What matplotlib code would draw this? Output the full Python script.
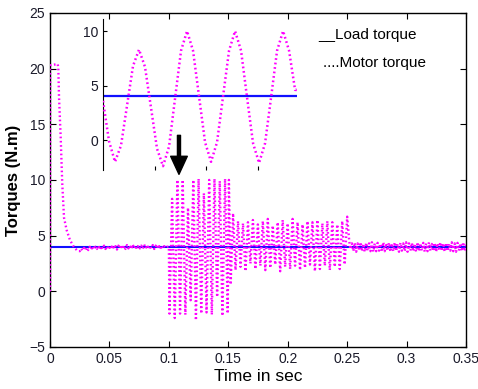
import numpy as np
import matplotlib
matplotlib.use("Agg")
import matplotlib.pyplot as plt

plt.rcParams["font.family"] = ["Liberation Sans", "DejaVu Sans"]

MAGENTA = "#ff00ff"
BLUE = "#1010ff"
DOTS = (0, (0.7, 1.1))

# load torque reference (N.m)
load_t = [0.0, 0.35]
load_v = [4.0, 4.0]

# motor torque: start-up transient
start_t = [0.0, 0.0, 0.0005, 0.0065, 0.0070, 0.0076, 0.0090, 0.0103, 0.0118, 0.0140, 0.0168, 0.0200, 0.0225]
start_v = [0.0, 19.9, 20.3, 20.4, 20.0, 17.4, 13.8, 9.7, 6.6, 5.5, 4.6, 4.0, 3.7]

# steady running before the fault (0.025 - 0.0985 s)
steady_v = [3.6, 3.85, 3.65, 3.9, 3.7, 3.95, 3.7, 4.0, 3.75, 4.05,
            3.75, 4.0, 3.8, 4.1, 3.75, 4.05, 3.8, 4.1, 3.8, 4.05,
            3.75, 4.1, 3.8, 4.15, 3.8, 4.05, 3.75, 4.1, 3.85, 4.15,
            3.8, 4.1, 3.8, 4.15, 3.85, 4.1, 3.8, 4.2, 3.85, 4.1,
            3.8, 4.15, 3.85, 4.1, 3.8, 4.2, 3.85, 4.15, 3.8, 4.1,
            3.85, 4.15, 3.8, 4.1, 3.85, 4.2, 3.8, 4.1, 3.85, 4.05,
            3.9, 4.0]

# heavy oscillation 0.1005 - 0.1495 s
osc1_v = [-2.0, 8.3, -2.4, 10.0, -2.0, 10.0, -2.1, 7.5, -0.8, 10.0, -2.6, 10.1,
          -2.0, 8.8, -1.9, 10.0, -2.1, 10.1, -0.5, 9.9, -2.2, 10.1, -2.0]
osc1_end_t = [0.1505, 0.1520]
osc1_end_v = [10.0, 0.6]

# lighter oscillation 0.154 - 0.25 s
osc2_v = [7.0, 1.9, 6.3, 2.2, 6.1, 1.8, 6.2, 2.5, 6.4, 2.0,
          6.0, 2.3, 6.3, 1.9, 6.5, 2.1, 5.9, 2.4, 6.2, 1.8,
          6.4, 2.2, 6.1, 2.0, 6.5, 2.3, 6.2, 1.9, 6.0, 2.1,
          6.3, 2.4, 6.2, 1.8, 6.4, 2.0, 6.1, 2.3, 6.3, 1.9,
          6.2, 2.2, 6.0, 2.0, 6.3, 2.4, 6.7]

# settling after 0.25 s
tail_t = [0.2515, 0.2525]
tail_v = [4.8, 3.8]
noise_v = [4.3, 3.6, 4.35, 3.55, 4.3, 3.65, 4.4, 3.6, 4.25, 3.55,
           4.35, 3.65, 4.3, 3.6, 4.4, 3.55, 4.3, 3.6, 4.35, 3.65,
           4.25, 3.55, 4.4, 3.6, 4.3, 3.65, 4.35, 3.55, 4.3, 3.6,
           4.4, 3.6, 4.25, 3.55, 4.35, 3.65, 4.3, 3.6, 4.4, 3.55,
           4.3, 3.65, 4.35, 3.6, 4.25, 3.55, 4.4, 3.6, 4.3, 3.65,
           4.35, 3.55, 4.3, 3.6, 4.4, 3.65, 4.25, 3.6, 4.35, 3.55,
           4.3, 3.65, 4.4, 3.6, 4.3, 3.55, 4.35, 3.6, 4.25, 3.65,
           4.4, 3.6, 4.3, 3.55, 4.35, 3.65, 4.3, 3.6, 4.4, 3.6,
           4.2]

# zoomed view of the first oscillations (time in ms)
zoom_px = [103, 109, 115, 121, 127, 133, 139, 145, 151, 157, 163, 169, 175,
           181, 187, 193, 199, 205, 211, 217, 223, 229, 235, 241, 247, 253,
           259, 265, 271, 277, 283, 289, 295, 297]
zoom_v = [3.6, -0.1, -2.0, -0.5, 3.15, 6.8, 8.3, 6.7, 2.95, -0.8, -2.4, -0.6,
          3.8, 8.2, 10.0, 8.2, 4.0, -0.2, -2.0, -0.2, 4.0, 8.2, 10.0, 8.2,
          3.9, -0.3, -2.1, -0.3, 3.9, 8.2, 10.0, 8.2, 4.6, 4.6]
zoom_t = [(p - 103) / 51.5 for p in zoom_px]

motor_t = np.concatenate([
    start_t,
    np.linspace(0.025, 0.0985, len(steady_v)),
    [0.1000],
    np.linspace(0.1005, 0.1495, len(osc1_v)),
    osc1_end_t,
    np.linspace(0.154, 0.250, len(osc2_v)),
    tail_t,
    np.linspace(0.254, 0.350, len(noise_v)),
])
motor_v = np.concatenate([start_v, steady_v, [4.0], osc1_v, osc1_end_v,
                          osc2_v, tail_v, noise_v])

fig = plt.figure(figsize=(4.78, 3.89), dpi=100)
ax = fig.add_axes([0.1046, 0.108, 0.8704, 0.859])
ax.plot(load_t, load_v, color=BLUE, lw=1.5, zorder=2)
ax.plot(motor_t, motor_v, color=MAGENTA, lw=1.7, ls=DOTS, zorder=3)
ax.set_xlim(0, 0.35)
ax.set_ylim(-5, 25)
ax.set_xticks([0, 0.05, 0.1, 0.15, 0.2, 0.25, 0.3, 0.35])
ax.set_xticklabels(["0", "0.05", "0.1", "0.15", "0.2", "0.25", "0.3", "0.35"])
ax.set_yticks([-5, 0, 5, 10, 15, 20, 25])
ax.tick_params(direction="in", top=True, right=True, length=4, width=0.8,
               labelsize=10, labelcolor="#1a1a2a")
for s in ax.spines.values():
    s.set_linewidth(1.0)
ax.set_xlabel("Time in sec", fontsize=12.5, labelpad=2)
ax.set_ylabel("Torques (N.m)", fontsize=12, fontweight="bold", labelpad=6)

ax.text(0.2255, 23.0, "__Load torque", fontsize=11, va="center")
ax.text(0.2296, 20.5, "....Motor torque", fontsize=11, va="center")

ax.annotate("", xy=(0.1085, 10.5), xytext=(0.1085, 14.0),
            arrowprops=dict(facecolor="black", edgecolor="black", width=2.2,
                            headwidth=12, headlength=13))

# inset
ins = fig.add_axes([0.2155, 0.563, 0.406, 0.388])
ins.patch.set_alpha(0)
ins.plot([0, zoom_t[-1]], [4, 4], color=BLUE, lw=1.6, zorder=2)
ins.plot(zoom_t, zoom_v, color=MAGENTA, lw=1.8, ls=DOTS, zorder=3)
ins.set_xlim(0, 194 / 51.5)
ins.set_ylim(-2.75, 11.1)
for side in ["top", "right", "bottom"]:
    ins.spines[side].set_visible(False)
ins.set_xticks([1, 2, 3])
ins.set_xticklabels([])
ins.set_yticks([0, 5, 10])
ins.tick_params(direction="in", length=3, width=0.8, labelsize=10,
                labelcolor="#1a1a2a")

fig.savefig("out.png", dpi=100)
